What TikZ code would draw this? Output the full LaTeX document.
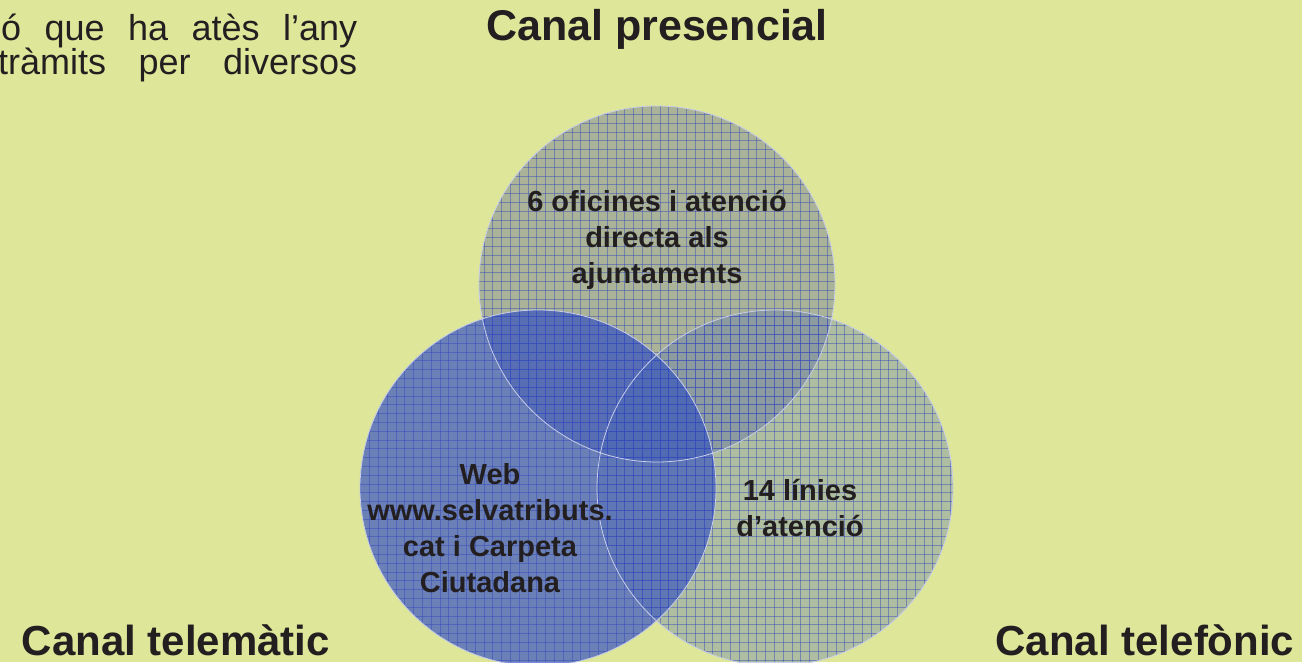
\documentclass[tikz,border=0pt]{standalone}
\usepackage{fontspec}
\setmainfont{Liberation Sans}
\definecolor{bg}{RGB}{221,230,153}
\definecolor{ctop}{RGB}{100,110,150}
\definecolor{cleft}{RGB}{40,70,200}
\definecolor{cright}{RGB}{70,100,180}
\definecolor{txt}{RGB}{35,31,32}
\definecolor{gridc}{RGB}{50,70,190}
\definecolor{rimc}{RGB}{200,205,235}
\tikzset{
  title/.style={font=\bfseries\fontsize{43}{48}\selectfont, text=txt, inner sep=0pt},
  subtitle/.style={font=\bfseries\fontsize{42}{48}\selectfont, text=txt, inner sep=0pt},
  inner/.style={font=\bfseries\fontsize{29}{36}\selectfont, text=txt, align=center, inner sep=0pt},
  body/.style={font=\fontsize{36}{40}\selectfont, text=txt, inner sep=0pt, anchor=base west},
  rim/.style={draw=rimc, line width=0.8pt},
  gridline/.style={draw=gridc, line width=0.8pt, opacity=0.45}
}
\newcommand{\gridfill}[3]{%
  \begin{scope}
    \clip (#1,#2) circle (#3pt);
    \foreach \gx in {0,8.8,...,1302} \path[gridline] (\gx,0) -- (\gx,662);
    \foreach \gy in {0,8.8,...,662} \path[gridline] (0,\gy) -- (1302,\gy);
  \end{scope}}
\begin{document}
\begin{tikzpicture}[x=1pt,y=-1pt]
\useasboundingbox (0,0) rectangle (1302,662);
\fill[bg] (0,0) rectangle (1302,662);

% circles
\fill[ctop, opacity=0.42] (657,284) circle (178pt);
\gridfill{657}{284}{178}
\fill[cleft, opacity=0.63] (538,488) circle (178pt);
\gridfill{538}{488}{178}
\fill[cright, opacity=0.3] (775,488) circle (178pt);
\gridfill{775}{488}{178}
\draw[rim] (657,284) circle (178pt);
\draw[rim] (538,488) circle (178pt);
\draw[rim] (775,488) circle (178pt);

% titles
\node[title] (tpres) at (657,29) {Canal presencial};
\node[subtitle] (ttelem) at (176,640) {Canal telemàtic};
\node[subtitle] (ttelef) at (1145,640) {Canal telefònic};

% inner texts
\node[inner] (ipres) at (657,240) {6 oficines i atenció\\directa als\\ajuntaments};
\node[inner] (itelem) at (490,528) {Web\\www.selvatributs.\\cat i Carpeta\\Ciutadana};
\node[inner] (itelef) at (800,508) {14 línies\\d’atenció};

% body text (cut off)
\node[body] (l1) at (1,40) {\makebox[356pt][s]{ó que ha atès l’any}};
\node[body] (l2) at (-2,74) {\makebox[359pt][s]{tràmits per diversos}};
\end{tikzpicture}
\end{document}
